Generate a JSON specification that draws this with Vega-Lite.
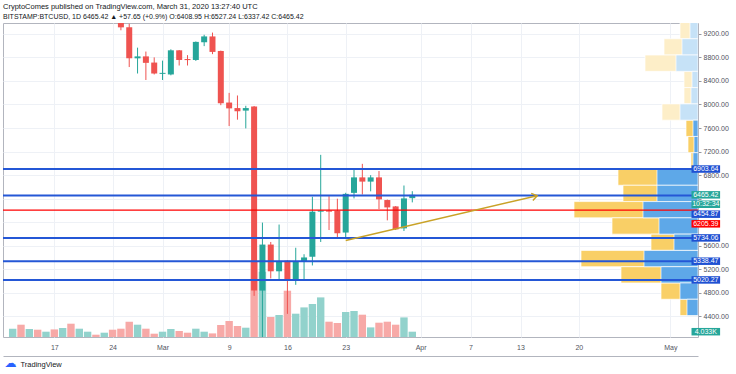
{
  "$schema": "https://vega.github.io/schema/vega-lite/v6.json",
  "width": 695,
  "height": 314,
  "autosize": {"type": "none"},
  "padding": {"left": 3, "top": 23, "right": 38, "bottom": 37},
  "background": "white",
  "config": {"view": {"stroke": "#b2b5be", "strokeWidth": 1}, "font": "Liberation Sans", "axis": {"labelOverlap": false, "labelBound": false}},
  "title": {
    "text": "CryptoComes published on TradingView.com, March 31, 2020 13:27:40 UTC",
    "subtitle": "BITSTAMP:BTCUSD, 1D  6465.42 ▲ +57.65 (+0.9%)  O:6408.95  H:6527.24  L:6337.42  C:6465.42",
    "anchor": "start", "frame": "group",
    "font": "Liberation Sans", "fontSize": 7.5, "fontWeight": "normal", "color": "#131722",
    "subtitleFont": "Liberation Sans", "subtitleFontSize": 7, "subtitleColor": "#131722",
    "subtitlePadding": 3, "offset": 3
  },
  "datasets": {
    "candles": [
      {"date": "2020-02-25", "o": 9660, "h": 9680, "l": 9260, "c": 9310},
      {"date": "2020-02-26", "o": 9310, "h": 9370, "l": 8636, "c": 8784},
      {"date": "2020-02-27", "o": 8784, "h": 8965, "l": 8526, "c": 8817},
      {"date": "2020-02-28", "o": 8817, "h": 8899, "l": 8416, "c": 8707},
      {"date": "2020-02-29", "o": 8712, "h": 8800, "l": 8510, "c": 8526},
      {"date": "2020-03-01", "o": 8520, "h": 8745, "l": 8416, "c": 8537},
      {"date": "2020-03-02", "o": 8510, "h": 8937, "l": 8495, "c": 8920},
      {"date": "2020-03-03", "o": 8920, "h": 8925, "l": 8662, "c": 8756},
      {"date": "2020-03-04", "o": 8772, "h": 8838, "l": 8662, "c": 8754},
      {"date": "2020-03-05", "o": 8756, "h": 9070, "l": 8740, "c": 9063},
      {"date": "2020-03-06", "o": 9057, "h": 9184, "l": 8991, "c": 9156},
      {"date": "2020-03-07", "o": 9156, "h": 9221, "l": 8855, "c": 8893},
      {"date": "2020-03-08", "o": 8909, "h": 8915, "l": 7988, "c": 8021},
      {"date": "2020-03-09", "o": 8033, "h": 8197, "l": 7634, "c": 7934},
      {"date": "2020-03-10", "o": 7939, "h": 8153, "l": 7742, "c": 7885},
      {"date": "2020-03-11", "o": 7896, "h": 7978, "l": 7594, "c": 7939},
      {"date": "2020-03-12", "o": 7967, "h": 7975, "l": 4750, "c": 4839},
      {"date": "2020-03-13", "o": 4839, "h": 5994, "l": 3850, "c": 5621},
      {"date": "2020-03-14", "o": 5621, "h": 5665, "l": 5046, "c": 5167},
      {"date": "2020-03-15", "o": 5167, "h": 5961, "l": 5019, "c": 5337},
      {"date": "2020-03-16", "o": 5348, "h": 5355, "l": 4444, "c": 5029},
      {"date": "2020-03-17", "o": 5029, "h": 5567, "l": 4937, "c": 5337},
      {"date": "2020-03-18", "o": 5337, "h": 5457, "l": 5008, "c": 5402},
      {"date": "2020-03-19", "o": 5414, "h": 6433, "l": 5266, "c": 6180},
      {"date": "2020-03-20", "o": 6180, "h": 7145, "l": 5665, "c": 6200},
      {"date": "2020-03-21", "o": 6200, "h": 6443, "l": 5868, "c": 6180},
      {"date": "2020-03-22", "o": 6196, "h": 6400, "l": 5731, "c": 5813},
      {"date": "2020-03-23", "o": 5825, "h": 6500, "l": 5731, "c": 6482},
      {"date": "2020-03-24", "o": 6499, "h": 6898, "l": 6405, "c": 6762},
      {"date": "2020-03-25", "o": 6762, "h": 6992, "l": 6471, "c": 6690},
      {"date": "2020-03-26", "o": 6690, "h": 6800, "l": 6525, "c": 6762},
      {"date": "2020-03-27", "o": 6762, "h": 6870, "l": 6224, "c": 6389},
      {"date": "2020-03-28", "o": 6377, "h": 6385, "l": 6032, "c": 6252},
      {"date": "2020-03-29", "o": 6269, "h": 6275, "l": 5868, "c": 5879},
      {"date": "2020-03-30", "o": 5896, "h": 6624, "l": 5851, "c": 6405},
      {"date": "2020-03-31", "o": 6408.95, "h": 6527.24, "l": 6337.42, "c": 6465.42}
    ],
    "volume": [
      {"date": "2020-02-12", "vol": 6300, "dir": "up"},
      {"date": "2020-02-13", "vol": 9350, "dir": "down"},
      {"date": "2020-02-14", "vol": 6080, "dir": "up"},
      {"date": "2020-02-15", "vol": 5550, "dir": "down"},
      {"date": "2020-02-16", "vol": 4030, "dir": "up"},
      {"date": "2020-02-17", "vol": 5780, "dir": "down"},
      {"date": "2020-02-18", "vol": 6840, "dir": "up"},
      {"date": "2020-02-19", "vol": 10110, "dir": "down"},
      {"date": "2020-02-20", "vol": 6310, "dir": "up"},
      {"date": "2020-02-21", "vol": 4030, "dir": "up"},
      {"date": "2020-02-22", "vol": 1750, "dir": "down"},
      {"date": "2020-02-23", "vol": 3270, "dir": "up"},
      {"date": "2020-02-24", "vol": 5550, "dir": "down"},
      {"date": "2020-02-25", "vol": 6310, "dir": "down"},
      {"date": "2020-02-26", "vol": 11630, "dir": "down"},
      {"date": "2020-02-27", "vol": 9350, "dir": "up"},
      {"date": "2020-02-28", "vol": 6310, "dir": "down"},
      {"date": "2020-02-29", "vol": 2510, "dir": "down"},
      {"date": "2020-03-01", "vol": 4030, "dir": "up"},
      {"date": "2020-03-02", "vol": 6080, "dir": "up"},
      {"date": "2020-03-03", "vol": 4560, "dir": "down"},
      {"date": "2020-03-04", "vol": 3270, "dir": "down"},
      {"date": "2020-03-05", "vol": 6310, "dir": "up"},
      {"date": "2020-03-06", "vol": 4030, "dir": "up"},
      {"date": "2020-03-07", "vol": 2740, "dir": "down"},
      {"date": "2020-03-08", "vol": 9120, "dir": "down"},
      {"date": "2020-03-09", "vol": 12160, "dir": "down"},
      {"date": "2020-03-10", "vol": 8360, "dir": "down"},
      {"date": "2020-03-11", "vol": 7070, "dir": "up"},
      {"date": "2020-03-12", "vol": 57230, "dir": "down"},
      {"date": "2020-03-13", "vol": 49630, "dir": "up"},
      {"date": "2020-03-14", "vol": 15200, "dir": "down"},
      {"date": "2020-03-15", "vol": 16720, "dir": "up"},
      {"date": "2020-03-16", "vol": 35190, "dir": "down"},
      {"date": "2020-03-17", "vol": 17710, "dir": "up"},
      {"date": "2020-03-18", "vol": 22500, "dir": "up"},
      {"date": "2020-03-19", "vol": 25080, "dir": "up"},
      {"date": "2020-03-20", "vol": 30100, "dir": "up"},
      {"date": "2020-03-21", "vol": 11630, "dir": "down"},
      {"date": "2020-03-22", "vol": 10640, "dir": "down"},
      {"date": "2020-03-23", "vol": 19000, "dir": "up"},
      {"date": "2020-03-24", "vol": 19760, "dir": "up"},
      {"date": "2020-03-25", "vol": 16950, "dir": "down"},
      {"date": "2020-03-26", "vol": 7300, "dir": "up"},
      {"date": "2020-03-27", "vol": 10870, "dir": "down"},
      {"date": "2020-03-28", "vol": 11630, "dir": "down"},
      {"date": "2020-03-29", "vol": 9350, "dir": "down"},
      {"date": "2020-03-30", "vol": 14900, "dir": "up"},
      {"date": "2020-03-31", "vol": 4033, "dir": "up"}
    ],
    "profile": [
      {"low": 9116, "high": 9393, "up": 8, "total": 18, "va": false},
      {"low": 8840, "high": 9116, "up": 16, "total": 34, "va": false},
      {"low": 8563, "high": 8840, "up": 22, "total": 53, "va": false},
      {"low": 8287, "high": 8563, "up": 6, "total": 14, "va": false},
      {"low": 8010, "high": 8287, "up": 7, "total": 14, "va": false},
      {"low": 7734, "high": 8010, "up": 18, "total": 36, "va": false},
      {"low": 7457, "high": 7734, "up": 5, "total": 12, "va": true},
      {"low": 7181, "high": 7457, "up": 4, "total": 10, "va": true},
      {"low": 6904, "high": 7181, "up": 5, "total": 7, "va": true},
      {"low": 6628, "high": 6904, "up": 41, "total": 80, "va": true},
      {"low": 6351, "high": 6628, "up": 41, "total": 75, "va": true},
      {"low": 6075, "high": 6351, "up": 55, "total": 124, "va": true},
      {"low": 5798, "high": 6075, "up": 39, "total": 86, "va": true},
      {"low": 5522, "high": 5798, "up": 24, "total": 47, "va": true},
      {"low": 5245, "high": 5522, "up": 54, "total": 117, "va": true},
      {"low": 4969, "high": 5245, "up": 37, "total": 77, "va": true},
      {"low": 4692, "high": 4969, "up": 18, "total": 37, "va": true},
      {"low": 4416, "high": 4692, "up": 11, "total": 18, "va": true}
    ],
    "levels": [
      {"price": 6903.64, "kind": "blue"},
      {"price": 6454.87, "kind": "blue"},
      {"price": 6205.39, "kind": "red"},
      {"price": 5734.06, "kind": "blue"},
      {"price": 5338.47, "kind": "blue"},
      {"price": 5020.27, "kind": "blue"}
    ],
    "trend": [
      {"date": "2020-03-23", "price": 5690},
      {"date": "2020-04-15", "price": 6450}
    ],
    "tags": [
      {"text": "6903.64", "level": 6903.64, "kind": "line"},
      {"text": "6465.42", "level": 6465.42, "kind": "last"},
      {"text": "10:32:34", "level": 6306, "kind": "last"},
      {"text": "6454.87", "level": 6137, "kind": "line"},
      {"text": "6205.39", "level": 5973, "kind": "alert"},
      {"text": "5734.06", "level": 5734.06, "kind": "line"},
      {"text": "5338.47", "level": 5338.47, "kind": "line"},
      {"text": "5020.27", "level": 5020.27, "kind": "line"}
    ],
    "voltag": [
      {"text": "4.033K", "vol": 4033}
    ]
  },
  "layer": [
    {
      "layer": [
        {
          "data": {"name": "volume"},
          "mark": {"type": "bar", "size": 7.4},
          "encoding": {
            "x": {"field": "date", "type": "temporal",
              "scale": {"type": "utc", "domain": [{"year": 2020, "month": 2, "date": 11, "hours": 10, "minutes": 30, "utc": true}, {"year": 2020, "month": 5, "date": 3, "hours": 17, "minutes": 15, "utc": true}]},
              "axis": {"orient": "bottom", "offset": 19, "labels": false, "ticks": false, "grid": false, "domain": true, "domainColor": "#b2b5be",
                "title": "☁", "titleColor": "#2962ff", "titleFont": "DejaVu Sans", "titleFontSize": 12, "titleFontWeight": "normal",
                "titleAnchor": "start", "titleAlign": "left", "titleBaseline": "middle", "titleX": 1, "titleY": 6}},
            "y": {"field": "vol", "type": "quantitative", "scale": {"domain": [0, 238640], "nice": false}, "axis": null},
            "color": {"field": "dir", "type": "nominal", "scale": {"domain": ["up", "down"], "range": ["#92d2cc", "#f7a9a7"]}, "legend": null}
          }
        },
        {
          "data": {"name": "voltag"},
          "mark": {"type": "point", "shape": "M-1,-0.262H1V0.262H-1Z", "filled": true, "opacity": 1, "size": 818, "color": "#26a69a"},
          "encoding": {
            "x": {"datum": {"year": 2020, "month": 5, "date": 5, "hours": 6, "minutes": 10, "utc": true}, "type": "temporal"},
            "y": {"field": "vol", "type": "quantitative"}
          }
        },
        {
          "data": {"name": "voltag"},
          "mark": {"type": "text", "color": "white", "fontSize": 7, "font": "Liberation Sans", "align": "center", "baseline": "middle"},
          "encoding": {
            "x": {"datum": {"year": 2020, "month": 5, "date": 5, "hours": 6, "minutes": 10, "utc": true}, "type": "temporal"},
            "y": {"field": "vol", "type": "quantitative"},
            "text": {"field": "text"}
          }
        }
      ]
    },
    {
      "layer": [
        {
          "layer": [
            {
              "data": {"name": "profile"},
              "mark": {"type": "bar", "orient": "horizontal", "clip": true, "stroke": "white", "strokeWidth": 0.7},
              "encoding": {
                "y": {"field": "low", "type": "quantitative", "scale": {"domain": [4136, 9299], "nice": false, "zero": false}},
                "y2": {"field": "high"},
                "x": {"field": "total", "type": "quantitative", "scale": {"domain": [0, 695], "reverse": true, "nice": false}, "axis": null},
                "color": {"condition": {"test": "datum.va", "value": "#f9cf66"}, "value": "#fdeec8"}
              }
            },
            {
              "data": {"name": "profile"},
              "mark": {"type": "bar", "orient": "horizontal", "clip": true, "stroke": "white", "strokeWidth": 0.7},
              "encoding": {
                "y": {"field": "low", "type": "quantitative"},
                "y2": {"field": "high"},
                "x": {"field": "up", "type": "quantitative"},
                "color": {"condition": {"test": "datum.va", "value": "#5ea8e8"}, "value": "#c6e2f7"}
              }
            }
          ]
        },
        {
          "layer": [
            {
              "data": {"name": "candles"},
              "mark": {"type": "rule", "strokeWidth": 1, "clip": true},
              "encoding": {
                "x": {"field": "date", "type": "temporal",
                  "scale": {"type": "utc", "domain": [{"year": 2020, "month": 2, "date": 11, "hours": 10, "minutes": 30, "utc": true}, {"year": 2020, "month": 5, "date": 3, "hours": 17, "minutes": 15, "utc": true}]},
                  "axis": {
                    "orient": "bottom", "tickCount": 30,
                    "values": [
                      {"year": 2020, "month": 2, "date": 17, "utc": true},
                      {"year": 2020, "month": 2, "date": 24, "utc": true},
                      {"year": 2020, "month": 3, "date": 1, "utc": true},
                      {"year": 2020, "month": 3, "date": 9, "utc": true},
                      {"year": 2020, "month": 3, "date": 16, "utc": true},
                      {"year": 2020, "month": 3, "date": 23, "utc": true},
                      {"year": 2020, "month": 4, "date": 1, "utc": true},
                      {"year": 2020, "month": 4, "date": 7, "utc": true},
                      {"year": 2020, "month": 4, "date": 13, "utc": true},
                      {"year": 2020, "month": 4, "date": 20, "utc": true},
                      {"year": 2020, "month": 5, "date": 1, "utc": true}
                    ],
                    "labelExpr": "utcdate(datum.value) == 1 ? utcFormat(datum.value, '%b') : utcFormat(datum.value, '%-d')",
                    "grid": true, "gridColor": "#eef1f6", "ticks": false, "domain": false, "labelOverlap": false,
                    "labelFont": "Liberation Sans", "labelFontSize": 7, "labelColor": "#50535e", "labelPadding": 6, "labelFlush": false,
                    "title": "TradingView", "titleFont": "Liberation Sans", "titleFontSize": 7.5, "titleFontWeight": "normal", "titleColor": "#131722",
                    "titleAnchor": "start", "titleAlign": "left", "titleBaseline": "middle", "titleX": 17, "titleY": 27
                  }},
                "y": {"field": "l", "type": "quantitative",
                  "scale": {"domain": [4136, 9299], "nice": false, "zero": false},
                  "axis": {
                    "orient": "right", "tickCount": 30, "values": [4400, 4800, 5200, 5600, 6000, 6400, 6800, 7200, 7600, 8000, 8400, 8800, 9200],
                    "labelExpr": "datum.value == 6400 || datum.value == 6000 ? '' : format(datum.value, '.2f')",
                    "grid": true, "gridColor": "#eef1f6", "tickSize": 3, "tickColor": "#9598a1", "domain": false, "labelOverlap": false,
                    "labelFont": "Liberation Sans", "labelFontSize": 7, "labelColor": "#50535e", "labelPadding": 2, "title": null
                  }},
                "y2": {"field": "h"},
                "color": {"condition": {"test": "datum.c >= datum.o", "value": "#26a69a"}, "value": "#ef5350"}
              }
            },
            {
              "data": {"name": "candles"},
              "mark": {"type": "bar", "size": 6, "clip": true},
              "encoding": {
                "x": {"field": "date", "type": "temporal"},
                "y": {"field": "o", "type": "quantitative"},
                "y2": {"field": "c"},
                "color": {"condition": {"test": "datum.c >= datum.o", "value": "#26a69a"}, "value": "#ef5350"}
              }
            },
            {
              "data": {"name": "levels"},
              "transform": [{"filter": "datum.kind === 'blue'"}],
              "mark": {"type": "rule", "strokeWidth": 2, "color": "#2457d6"},
              "encoding": {
                "y": {"field": "price", "type": "quantitative"}
              }
            },
            {
              "data": {"name": "levels"},
              "transform": [{"filter": "datum.kind === 'red'"}],
              "mark": {"type": "rule", "strokeWidth": 1.2, "color": "#ff0000"},
              "encoding": {
                "y": {"field": "price", "type": "quantitative"}
              }
            },
            {
              "data": {"name": "trend"},
              "mark": {"type": "line", "color": "#c9a227", "strokeWidth": 1.5},
              "encoding": {
                "x": {"field": "date", "type": "temporal"},
                "y": {"field": "price", "type": "quantitative"}
              }
            },
            {
              "data": {"name": "trend"},
              "transform": [{"filter": "datum.price > 6000"}],
              "mark": {"type": "point", "shape": "M-1,-0.7L0,0L-1,0.7", "filled": false, "color": "#c9a227", "strokeWidth": 1.5, "opacity": 1, "size": 110, "angle": 346.7},
              "encoding": {
                "x": {"field": "date", "type": "temporal"},
                "y": {"field": "price", "type": "quantitative"}
              }
            },
            {
              "data": {"name": "tags"},
              "mark": {"type": "point", "shape": "M-1,-0.262H1V0.262H-1Z", "filled": true, "opacity": 1, "size": 818},
              "encoding": {
                "x": {"datum": {"year": 2020, "month": 5, "date": 5, "hours": 6, "minutes": 10, "utc": true}, "type": "temporal"},
                "y": {"field": "level", "type": "quantitative"},
                "color": {"condition": [{"test": "datum.kind === 'last'", "value": "#26a69a"}, {"test": "datum.kind === 'alert'", "value": "#ff0000"}], "value": "#1f50d2"}
              }
            },
            {
              "data": {"name": "tags"},
              "mark": {"type": "text", "color": "white", "fontSize": 7, "font": "Liberation Sans", "align": "center", "baseline": "middle"},
              "encoding": {
                "x": {"datum": {"year": 2020, "month": 5, "date": 5, "hours": 6, "minutes": 10, "utc": true}, "type": "temporal"},
                "y": {"field": "level", "type": "quantitative"},
                "text": {"field": "text"}
              }
            }
          ]
        }
      ],
      "resolve": {"scale": {"x": "independent"}, "axis": {"x": "independent"}}
    }
  ],
  "resolve": {"scale": {"x": "independent", "y": "independent"}, "axis": {"x": "independent", "y": "independent"}}
}
